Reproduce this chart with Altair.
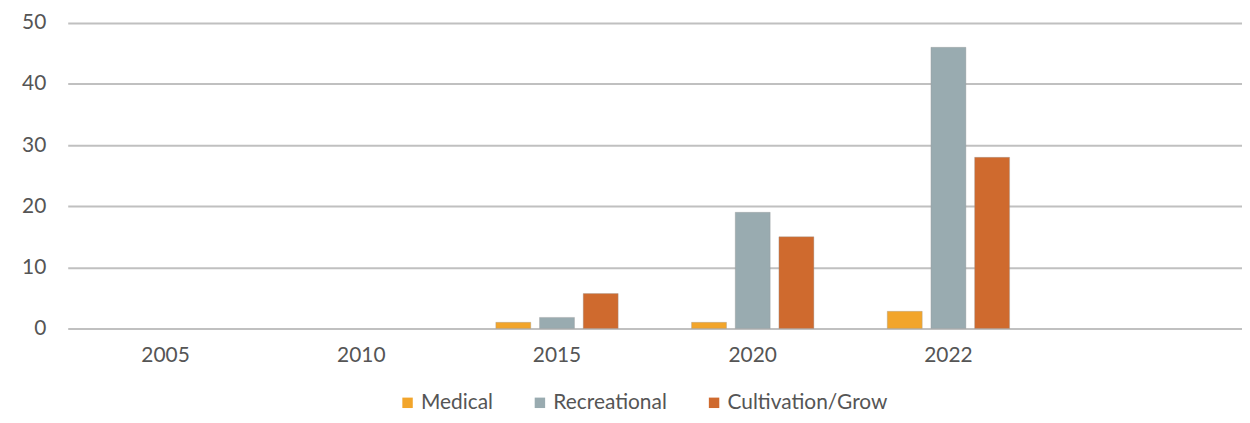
import altair as alt
import pandas as pd

years = ["2005", "2010", "2015", "2020", "2022"]
medical = [None, None, 1, 1, 2.8]
recreational = [None, None, 1.8, 19, 46]
cultivation = [None, None, 5.7, 15, 28]
series = ["Medical", "Recreational", "Cultivation/Grow"]
colors = ["#F2A52B", "#99ABB0", "#CF6A2E"]
x_domain = years + [" "]

rows = []
for i, y in enumerate(years):
    for s, vals in zip(series, [medical, recreational, cultivation]):
        if vals[i] is not None:
            rows.append({"year": y, "series": s, "value": vals[i]})
df = pd.DataFrame(rows)

font = "Lato"
txt = "#555555"

chart = alt.Chart(df).mark_bar(stroke="#9a9a9a", strokeWidth=0.6, strokeOpacity=0.6).encode(
    x=alt.X("year:N", scale=alt.Scale(domain=x_domain, paddingInner=0.375, paddingOuter=0.1875),
            axis=alt.Axis(title=None, labelAngle=0, domain=False, ticks=False, labelPadding=16,
                          labelFontSize=21, labelColor=txt, labelFont=font, grid=False)),
    xOffset=alt.XOffset("series:N", sort=series, scale=alt.Scale(paddingInner=0.2, paddingOuter=0)),
    y=alt.Y("value:Q", scale=alt.Scale(domain=[0, 50]),
            axis=alt.Axis(title=None, values=[0, 10, 20, 30, 40, 50], domain=False, ticks=False,
                          labelPadding=22, labelFontSize=21, labelColor=txt, labelFont=font,
                          gridColor="#C0C0C0", gridWidth=2)),
    color=alt.Color("series:N", sort=series, scale=alt.Scale(domain=series, range=colors),
                    legend=alt.Legend(title=None, orient="none", legendX=331, legendY=371,
                                      direction="horizontal", symbolType="square", symbolSize=110,
                                      symbolStrokeWidth=0, labelFontSize=21, labelColor=txt,
                                      labelFont=font, columnPadding=36, labelOffset=3,
                                      labelLimit=400)),
).properties(
    width=1180, height=307,
    autosize=alt.AutoSizeParams(type="none"),
    padding={"left": 60, "top": 14, "right": 0, "bottom": 86},
).configure_view(stroke=None)

chart.save("out.html", embed_options={"renderer": "svg", "actions": False})
